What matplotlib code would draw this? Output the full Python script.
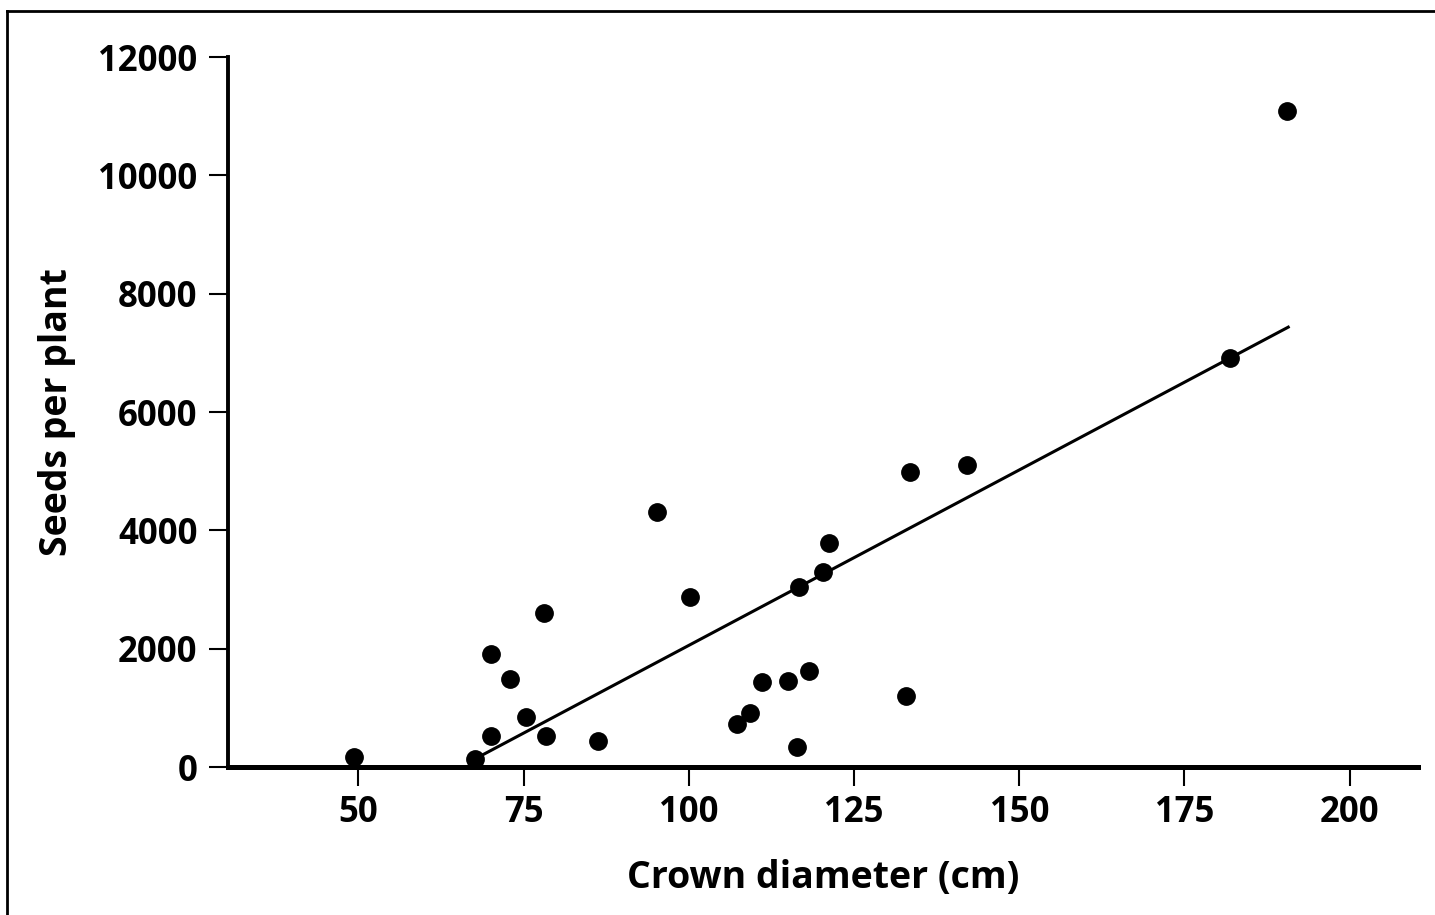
import matplotlib.pyplot as plt
import matplotlib.lines as mlines
from matplotlib import font_manager

# crown diameter (cm) vs seeds per plant
crown_cm = [49.4, 67.7, 70.0, 70.0, 73.0, 75.3, 78.1, 78.4, 86.2, 95.2,
            100.2, 107.3, 109.3, 111.0, 115.0, 116.4, 116.7, 118.2, 120.3, 121.2,
            132.8, 133.4, 142.1, 181.9, 190.5]
seeds = [170, 130, 1910, 520, 1490, 840, 2600, 520, 440, 4310,
         2870, 730, 910, 1440, 1450, 340, 3040, 1620, 3300, 3790,
         1200, 4990, 5100, 6910, 11090]

# fitted line
fit_x = [68.2, 190.7]
fit_slope = 59.3
fit_intercept = -3874

x_ticks = [50, 75, 100, 125, 150, 175, 200]
y_ticks = [0, 2000, 4000, 6000, 8000, 10000, 12000]

names = {f.name for f in font_manager.fontManager.ttflist}
family = 'Liberation Sans Narrow' if 'Liberation Sans Narrow' in names else 'Open Sans'
plt.rcParams['font.family'] = [family, 'DejaVu Sans']
plt.rcParams['font.weight'] = 'bold'

fig = plt.figure(figsize=(14.35, 9.15), dpi=100)
ax = fig.add_axes([0.159, 0.1617, 0.829, 0.776])

ax.plot(crown_cm, seeds, 'o', color='black', markersize=12.5, clip_on=False, zorder=3)
fit_y = [fit_slope * x + fit_intercept for x in fit_x]
ax.plot(fit_x, fit_y, color='black', linewidth=2.2, zorder=2)

ax.set_xlim(30.3, 210.3)
ax.set_ylim(0, 12000)
ax.set_xticks(x_ticks)
ax.set_yticks(y_ticks)

for side in ['top', 'right']:
    ax.spines[side].set_visible(False)
ax.spines['bottom'].set_linewidth(3.6)
ax.spines['left'].set_linewidth(2.8)

ax.tick_params(axis='both', direction='out', length=14, width=1.5, labelsize=25)
ax.tick_params(axis='y', pad=8)
ax.tick_params(axis='x', pad=6)
for lab in ax.get_xticklabels() + ax.get_yticklabels():
    lab.set_fontweight('bold')

ax.set_xlabel('Crown diameter (cm)', fontsize=27, fontweight='bold', labelpad=20)
ax.set_ylabel('Seeds per plant', fontsize=27, fontweight='bold', labelpad=16)

# frame lines along the top and left edge of the picture
fig.add_artist(mlines.Line2D([7 / 1435, 1], [1 - 11 / 915, 1 - 11 / 915],
                             color='black', linewidth=2, transform=fig.transFigure))
fig.add_artist(mlines.Line2D([7 / 1435, 7 / 1435], [0, 1 - 11 / 915],
                             color='black', linewidth=2, transform=fig.transFigure))

plt.savefig('out.png')
